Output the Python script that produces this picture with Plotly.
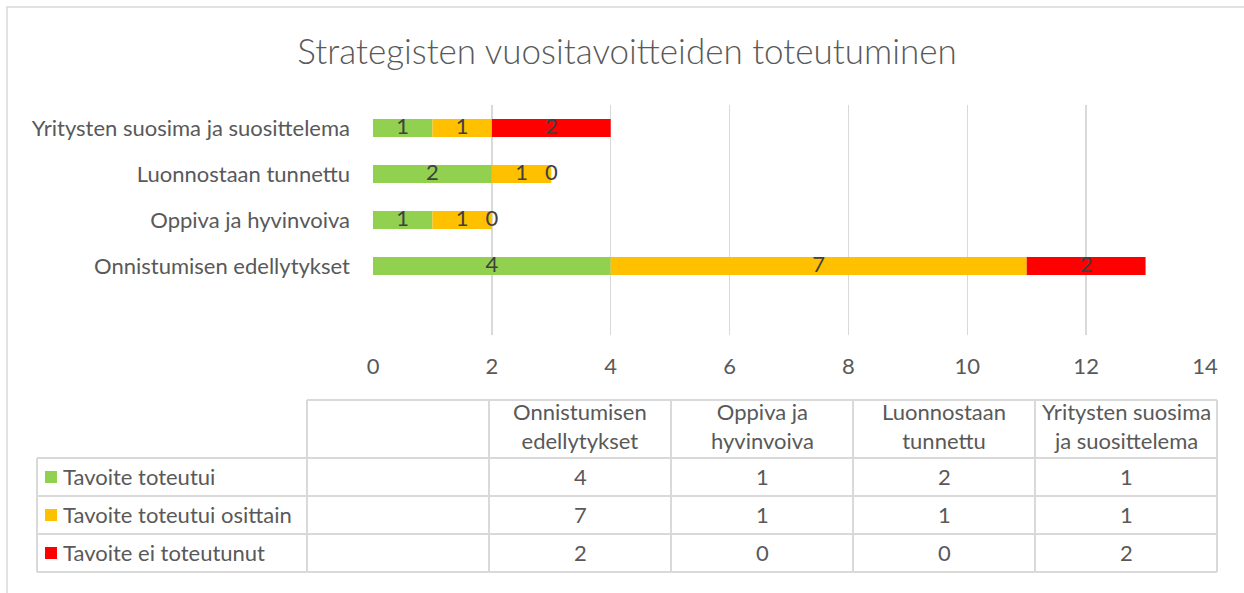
import plotly.graph_objects as go

# ---- data ----
categories = ["Onnistumisen edellytykset", "Oppiva ja hyvinvoiva",
              "Luonnostaan tunnettu", "Yritysten suosima ja suosittelema"]
header_labels = ["Onnistumisen<br>edellytykset", "Oppiva ja<br>hyvinvoiva",
                 "Luonnostaan<br>tunnettu", "Yritysten suosima<br>ja suosittelema"]
series_names = ["Tavoite toteutui", "Tavoite toteutui osittain", "Tavoite ei toteutunut"]
toteutui = [4, 1, 2, 1]
osittain = [7, 1, 1, 1]
ei_toteutunut = [2, 0, 0, 2]
series_values = [toteutui, osittain, ei_toteutunut]
colors = ["#92D050", "#FFC000", "#FF0000"]
x_ticks = [0, 2, 4, 6, 8, 10, 12, 14]
title = "Strategisten vuositavoitteiden toteutuminen"

W, H = 1244, 593
FONT = "Lato"
TXT = "#595959"
GRID = "#D9D9D9"
FS = 22


def px(x):
    return x / W


def py(y):
    return 1 - y / H


fig = go.Figure()

# stacked bars
base = [0] * len(categories)
for name, vals, col in zip(series_names, series_values, colors):
    fig.add_trace(go.Bar(
        y=categories, x=vals, base=base, orientation="h", name=name,
        marker=dict(color=col, line=dict(width=0)), showlegend=False,
    ))
    # data labels centred on each segment
    fig.add_trace(go.Scatter(
        y=categories, x=[b + v / 2 for b, v in zip(base, vals)],
        mode="text", text=[str(v) for v in vals],
        textfont=dict(family=FONT, size=FS, color="#404040"),
        showlegend=False, hoverinfo="skip", cliponaxis=False,
    ))
    base = [b + v for b, v in zip(base, vals)]

fig.update_layout(
    template="none",
    width=W, height=H,
    margin=dict(l=0, r=0, t=0, b=0, autoexpand=False),
    paper_bgcolor="white", plot_bgcolor="white",
    barmode="overlay", bargap=0.61,
    font=dict(family=FONT, color=TXT),
    title=dict(text=title, x=px(627), xanchor="center", y=py(52), yanchor="middle",
               font=dict(family=FONT, size=35, color=TXT, weight=300)),
    xaxis=dict(domain=[px(373), px(1205)], range=[0, 14], tickvals=x_ticks,
               showgrid=True, gridcolor=GRID, gridwidth=1.5, zeroline=False,
               showline=False, ticks="", ticklabelstandoff=16, automargin=False,
               tickfont=dict(family=FONT, size=FS, color=TXT), fixedrange=True),
    yaxis=dict(domain=[py(335), py(105)], type="category", categoryorder="array",
               categoryarray=categories, range=[-1.5, 3.5], showgrid=False,
               zeroline=False, showline=False, ticks="", ticklabelstandoff=22,
               automargin=False,
               tickfont=dict(family=FONT, size=FS, color=TXT), fixedrange=True),
)

shapes = []
annotations = []
line = dict(color=GRID, width=2)

# chart frame
shapes.append(dict(type="rect", xref="paper", yref="paper",
                   x0=px(7), x1=px(W + 20), y0=py(H + 20), y1=py(7),
                   line=dict(color=GRID, width=1.5)))

# data table geometry
col_edges = [307 + 182 * i for i in range(6)]
row_edges = [458, 496, 534, 572]
head_top = 400
leg_left = 37

# horizontal lines
shapes.append(dict(type="line", xref="paper", yref="paper",
                   x0=px(col_edges[0]), x1=px(col_edges[-1]), y0=py(head_top), y1=py(head_top), line=line))
for ry in row_edges:
    shapes.append(dict(type="line", xref="paper", yref="paper",
                       x0=px(leg_left), x1=px(col_edges[-1]), y0=py(ry), y1=py(ry), line=line))
# vertical lines
shapes.append(dict(type="line", xref="paper", yref="paper",
                   x0=px(leg_left), x1=px(leg_left), y0=py(row_edges[0]), y1=py(row_edges[-1]), line=line))
for cx in col_edges:
    shapes.append(dict(type="line", xref="paper", yref="paper",
                       x0=px(cx), x1=px(cx), y0=py(head_top), y1=py(row_edges[-1]), line=line))

# header labels (first category column is the empty one)
for i, lab in enumerate(header_labels):
    cx = (col_edges[i + 1] + col_edges[i + 2]) / 2
    annotations.append(dict(xref="paper", yref="paper", x=px(cx), y=py(426),
                            text=lab, showarrow=False, xanchor="center", yanchor="middle",
                            font=dict(family=FONT, size=FS, color=TXT)))

# rows
for r, (name, vals, col) in enumerate(zip(series_names, series_values, colors)):
    cy = (row_edges[r] + row_edges[r + 1]) / 2
    shapes.append(dict(type="rect", xref="paper", yref="paper",
                       x0=px(45), x1=px(57), y0=py(cy + 6), y1=py(cy - 6),
                       fillcolor=col, line=dict(width=0)))
    annotations.append(dict(xref="paper", yref="paper", x=px(61), y=py(cy - 1),
                            text=name, showarrow=False, xanchor="left", yanchor="middle",
                            font=dict(family=FONT, size=FS, color=TXT)))
    for i, v in enumerate(vals):
        cx = (col_edges[i + 1] + col_edges[i + 2]) / 2
        annotations.append(dict(xref="paper", yref="paper", x=px(cx), y=py(cy - 1),
                                text=str(v), showarrow=False, xanchor="center", yanchor="middle",
                                font=dict(family=FONT, size=FS, color=TXT)))

fig.update_layout(shapes=shapes, annotations=annotations)
fig.write_html(
    "out.html",
    config={"displayModeBar": False, "staticPlot": True},
    post_script=("document.documentElement.style.overflow='hidden';"
                 "document.body.style.overflow='hidden';"
                 "document.documentElement.style.margin='0px';"
                 "document.body.style.margin='0px';"
                 "document.body.style.padding='0px';"),
)
